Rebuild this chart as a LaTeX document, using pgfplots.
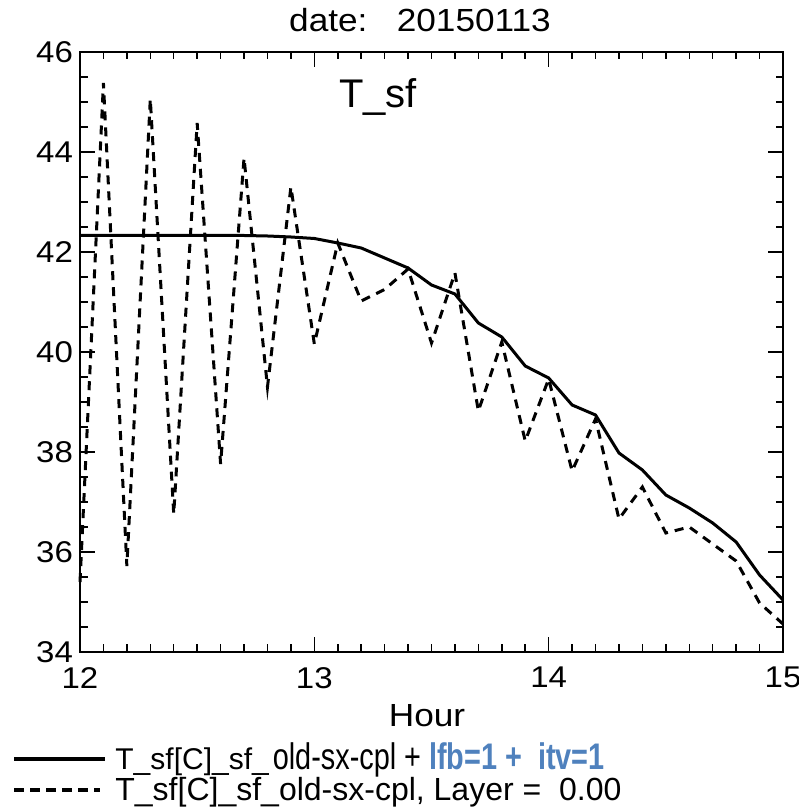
\documentclass[border=0pt]{standalone}
\usepackage{fontspec}
\setmainfont{Liberation Sans}
\newfontfamily\hershey[FakeStretch=1.1]{Liberation Sans}
\newfontfamily\narrowarial[FakeStretch=0.78]{Liberation Sans}
\usepackage{pgfplots}
\pgfplotsset{compat=1.18}
\definecolor{lfbblue}{HTML}{4F81BD}

\begin{document}
\begin{tikzpicture}[x=1pt,y=1pt]
\path[use as bounding box] (0,0) rectangle (399,404);
\begin{axis}[
  at={(40pt,78pt)}, anchor=south west,
  scale only axis, width=351.5pt, height=300pt,
  xmin=12, xmax=15, ymin=34, ymax=46,
  xtick={12,13,14,15}, ytick={34,36,38,40,42,44,46},
  minor x tick num=9, minor y tick num=3,
  tick align=inside, tick pos=both,
  major tick length=7.5pt, minor tick length=3.75pt,
  axis line style={line width=1pt},
  every tick/.style={black, line width=0.75pt},
  tick label style={font=\hershey\fontsize{15}{15}\selectfont},
  /pgf/number format/assume math mode=true,
  xticklabel style={yshift=-4pt},
  clip=false
]
% T_sf, old-sx-cpl + lfb=1 + itv=1
\addplot[black, line width=1.5pt] coordinates {
 (12.0,42.33) (12.1,42.33) (12.2,42.33) (12.3,42.33) (12.4,42.33)
 (12.5,42.33) (12.6,42.33) (12.7,42.33) (12.8,42.32) (12.9,42.30)
 (13.0,42.27) (13.1,42.18) (13.2,42.08) (13.3,41.88) (13.4,41.68)
 (13.5,41.34) (13.6,41.16) (13.7,40.58) (13.8,40.30) (13.9,39.72)
 (14.0,39.48) (14.1,38.94) (14.2,38.74) (14.3,37.98) (14.4,37.64)
 (14.5,37.14) (14.6,36.88) (14.7,36.58) (14.8,36.20) (14.9,35.54)
 (15.0,35.04)
};
% T_sf, old-sx-cpl
\addplot[black, line width=1.5pt, dash pattern=on 4.5pt off 3.5pt] coordinates {
 (12.0,35.40) (12.1,45.38) (12.2,35.72) (12.3,45.06) (12.4,36.76)
 (12.5,44.58) (12.6,37.76) (12.7,43.88) (12.8,39.30) (12.9,43.30)
 (13.0,40.16) (13.1,42.18) (13.2,41.02) (13.3,41.25) (13.4,41.66)
 (13.5,40.18) (13.6,41.58) (13.7,38.82) (13.8,40.20) (13.9,38.22)
 (14.0,39.46) (14.1,37.62) (14.2,38.66) (14.3,36.66) (14.4,37.30)
 (14.5,36.38) (14.6,36.50) (14.7,36.16) (14.8,35.82) (14.9,34.98)
 (15.0,34.56)
};
\end{axis}
% title, annotation, axis label
\node at (210,394) {\hershey\fontsize{16}{16}\selectfont date:\ \ \ 20150113};
\node at (189,355.5) {\fontsize{20}{20}\selectfont T\_sf};
\node at (213.5,46) {\hershey\fontsize{16}{16}\selectfont Hour};
% legend
\draw[black, line width=2pt] (7,24.5) -- (52.5,24.5);
\draw[black, line width=1.8pt, dash pattern=on 5pt off 3pt] (7,9) -- (50,9);
\node[anchor=base west, inner sep=0pt] at (57.5,19.5) {\fontsize{15}{15}\selectfont T\_sf[C]\_sf\_\hspace{2pt}{\narrowarial\fontsize{18.5}{18.5}\selectfont old-sx-cpl + \textcolor{lfbblue}{\bfseries lfb=1 +\ \ itv=1}}};
\node[anchor=base west, inner sep=0pt] at (57.5,3.5) {\fontsize{16}{16}\selectfont T\_sf[C]\_sf\_old-sx-cpl, Layer =\ \ 0.00};
\end{tikzpicture}
\end{document}
